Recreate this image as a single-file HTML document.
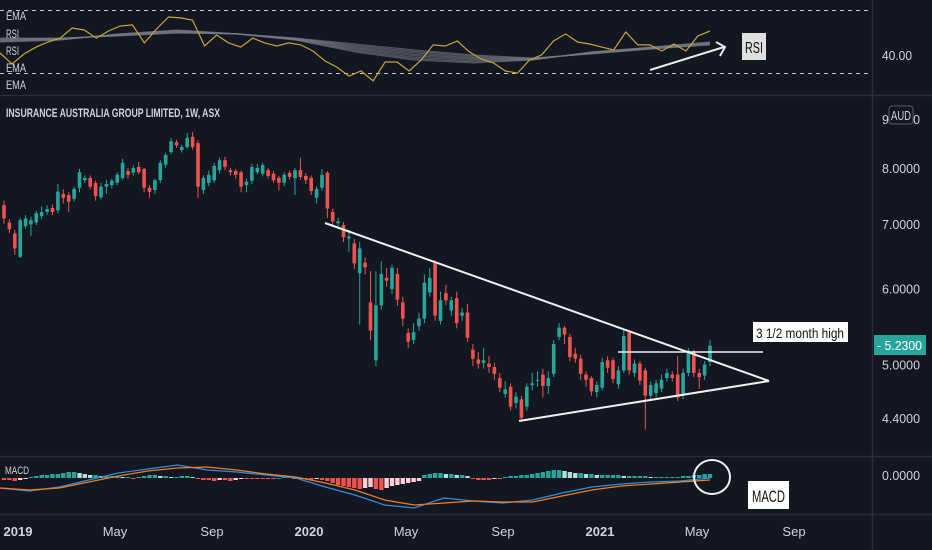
<!DOCTYPE html>
<html><head><meta charset="utf-8">
<style>
html,body{margin:0;padding:0;background:#131722;}
svg{display:block;}
text{font-family:"Liberation Sans Narrow","Liberation Sans",sans-serif;}
</style></head>
<body>
<svg id="chart" width="932" height="550" viewBox="0 0 932 550" xmlns="http://www.w3.org/2000/svg">
<rect x="0" y="0" width="932" height="550" fill="#131722"/>
<g id="grid">
<line x1="0" y1="95.5" x2="932" y2="95.5" stroke="#2a2e39" stroke-width="1.5"/>
<line x1="0" y1="456.5" x2="932" y2="456.5" stroke="#2a2e39" stroke-width="1.5"/>
<line x1="0" y1="514.5" x2="932" y2="514.5" stroke="#2a2e39" stroke-width="1.5"/>
<line x1="872.5" y1="0" x2="872.5" y2="550" stroke="#2a2e39" stroke-width="1.5"/>
</g>
<g id="rsiPanel">
<line x1="0" y1="10.5" x2="872" y2="10.5" stroke="#c8c8c8" stroke-dasharray="4,4"/>
<line x1="0" y1="73.5" x2="872" y2="73.5" stroke="#c8c8c8" stroke-dasharray="4,4"/>
<g id="emaRibbon"></g>
<path id="rsiLine" fill="none" stroke="#c9a33a" stroke-width="1.2"/>
<text x="6" y="20" fill="#d1d4dc" font-size="12" textLength="20" lengthAdjust="spacingAndGlyphs">EMA</text>
<text x="6" y="38" fill="#d1d4dc" font-size="12" textLength="13" lengthAdjust="spacingAndGlyphs">RSI</text>
<text x="6" y="55" fill="#d1d4dc" font-size="12" textLength="13" lengthAdjust="spacingAndGlyphs">RSI</text>
<text x="6" y="72" fill="#d1d4dc" font-size="12" textLength="20" lengthAdjust="spacingAndGlyphs">EMA</text>
<text x="6" y="89" fill="#d1d4dc" font-size="12" textLength="20" lengthAdjust="spacingAndGlyphs">EMA</text>
<text x="882" y="60" fill="#d1d4dc" font-size="13" textLength="30" lengthAdjust="spacingAndGlyphs">40.00</text>
<line x1="650" y1="70" x2="724" y2="47" stroke="#e8e8e8" stroke-width="2"/>
<polyline points="716,42 725,47 720,56" fill="none" stroke="#e8e8e8" stroke-width="2"/>
<rect x="742" y="33" width="24" height="27" fill="#e0e0e0"/>
<text x="745" y="53" fill="#111" font-size="16" textLength="18" lengthAdjust="spacingAndGlyphs">RSI</text>
</g>
<g id="mainPanel">
<text x="6" y="117" fill="#d1d4dc" font-size="12" font-weight="bold" textLength="214" lengthAdjust="spacingAndGlyphs">INSURANCE AUSTRALIA GROUP LIMITED, 1W, ASX</text>
<g id="priceAxis"></g>
<rect x="889" y="106" width="24" height="18" rx="3" fill="#131722" stroke="#555a66"/>
<text x="891" y="120" fill="#d1d4dc" font-size="13" textLength="20" lengthAdjust="spacingAndGlyphs">AUD</text>
<g id="candles"></g>
<line x1="325" y1="223" x2="769" y2="381" stroke="#f0f0f0" stroke-width="2"/>
<line x1="519" y1="421" x2="769" y2="381" stroke="#f0f0f0" stroke-width="2"/>
<line x1="618" y1="352" x2="763" y2="352" stroke="#f0f0f0" stroke-width="1.5"/>
<rect x="753" y="322" width="95" height="20" fill="#ffffff"/>
<text x="756" y="338" fill="#111" font-size="14" textLength="88" lengthAdjust="spacingAndGlyphs">3 1/2 month high</text>
<rect x="874" y="335" width="52" height="20" fill="#26a69a"/>
<text x="877" y="350" fill="#ffffff" font-size="13" textLength="45" lengthAdjust="spacingAndGlyphs">- 5.2300</text>
</g>
<g id="macdPanel">
<g id="hist"></g>
<path id="macdLine" fill="none" stroke="#2f8fdf" stroke-width="1.2"/>
<path id="signalLine" fill="none" stroke="#f57c1f" stroke-width="1.2"/>
<text x="5" y="474" fill="#d1d4dc" font-size="11" textLength="24" lengthAdjust="spacingAndGlyphs">MACD</text>
<text x="882" y="480" fill="#d1d4dc" font-size="13" textLength="38" lengthAdjust="spacingAndGlyphs">0.0000</text>
<ellipse cx="712" cy="477" rx="18" ry="17" fill="none" stroke="#f0f0f0" stroke-width="2"/>
<rect x="748" y="481" width="41" height="28" fill="#ffffff"/>
<text x="752" y="502" fill="#111" font-size="17" textLength="33" lengthAdjust="spacingAndGlyphs">MACD</text>
</g>
<g id="timeAxis"></g>
</svg>
<script>
const opens=[7.32,7.02,6.84,6.47,6.96,6.99,7.02,7.13,7.20,7.27,7.23,7.52,7.50,7.43,7.63,7.77,7.81,7.72,7.46,7.65,7.68,7.72,7.81,7.94,7.91,8.02,7.98,7.63,7.59,7.77,8.06,8.31,8.51,8.35,8.41,8.62,8.49,7.59,7.72,7.77,7.96,8.15,7.96,7.94,7.92,7.68,7.76,7.92,7.89,7.96,7.89,7.81,7.72,7.91,7.81,7.96,7.85,7.81,7.45,7.63,7.91,7.20,7.01,6.98,6.76,6.68,6.22,6.38,5.80,5.05,5.76,6.15,5.99,6.21,5.80,5.39,5.30,5.48,5.58,5.94,6.38,5.55,5.93,5.69,5.86,5.62,5.66,5.18,5.06,5.02,5.01,4.97,4.84,4.66,4.74,4.56,4.60,4.52,4.76,4.81,4.88,4.75,4.89,5.34,5.46,5.34,5.13,5.07,4.88,4.84,4.68,4.73,5.05,5.05,4.77,4.93,5.40,4.90,5.01,4.93,4.64,4.67,4.72,4.84,4.88,4.88,4.64,4.90,5.15,4.90,4.87,5.03];
const closes=[7.09,6.91,6.60,7.06,7.09,7.06,7.18,7.20,7.25,7.20,7.56,7.45,7.38,7.61,7.92,7.81,7.65,7.48,7.65,7.70,7.76,7.87,8.10,7.87,8.00,7.92,7.63,7.56,7.77,8.10,8.25,8.53,8.45,8.41,8.60,8.41,7.65,7.81,7.87,8.04,8.15,8.02,7.92,7.87,7.65,7.74,8.02,8.00,8.06,7.85,7.77,7.72,7.87,7.83,7.96,7.83,7.77,7.57,7.61,7.87,7.26,7.04,7.04,6.78,6.79,6.37,6.60,6.31,5.42,5.76,6.21,6.11,6.30,5.84,5.58,5.28,5.40,5.58,6.08,6.15,5.62,5.83,5.83,5.83,5.52,5.66,5.33,5.07,5.01,5.05,4.97,4.89,4.73,4.71,4.52,4.63,4.40,4.74,4.78,4.82,4.75,4.84,5.25,5.46,5.37,5.09,5.07,4.89,4.82,4.69,4.76,5.03,4.96,4.83,4.93,5.35,4.93,5.01,4.81,4.64,4.76,4.78,4.82,4.90,4.84,4.62,4.90,5.17,4.90,4.85,5.00,5.23];
const highs=[7.40,7.08,6.90,7.10,7.15,7.12,7.22,7.30,7.32,7.33,7.70,7.60,7.55,7.65,7.98,7.86,7.86,7.76,7.72,7.78,7.80,7.92,8.18,8.00,8.05,8.12,8.00,7.68,7.80,8.15,8.30,8.60,8.56,8.46,8.70,8.72,8.55,7.86,7.95,8.10,8.20,8.22,8.00,7.98,7.95,7.80,8.08,8.08,8.10,8.00,7.94,7.85,7.92,7.95,8.00,8.20,7.90,7.86,7.66,7.98,7.94,7.26,7.10,7.03,6.90,6.75,6.70,6.46,6.25,6.25,6.40,6.30,6.35,6.30,5.88,5.45,5.52,5.66,6.20,6.30,6.42,5.95,6.05,5.88,5.95,5.72,5.78,5.25,5.15,5.20,5.10,5.02,4.90,4.80,4.78,4.68,4.64,4.78,4.90,4.92,4.95,4.92,5.30,5.52,5.48,5.38,5.20,5.12,4.92,4.86,4.80,5.08,5.10,5.08,4.98,5.45,5.42,5.06,5.04,4.96,4.80,4.82,4.88,4.95,4.92,5.10,4.95,5.20,5.18,4.95,5.04,5.30];
const lows=[7.00,6.85,6.50,6.45,6.92,6.80,6.98,7.08,7.15,7.15,7.18,7.35,7.20,7.38,7.55,7.72,7.60,7.40,7.42,7.52,7.62,7.68,7.78,7.80,7.86,7.88,7.55,7.45,7.52,7.72,8.00,8.27,8.40,8.30,8.38,8.36,7.45,7.52,7.66,7.72,7.90,7.96,7.86,7.80,7.55,7.55,7.70,7.88,7.84,7.80,7.72,7.58,7.66,7.78,7.50,7.78,7.70,7.50,7.35,7.58,7.10,6.98,6.96,6.70,6.55,6.28,5.50,6.20,5.30,4.98,5.70,6.02,5.92,5.75,5.48,5.20,5.25,5.42,5.52,5.88,5.55,5.50,5.76,5.62,5.45,5.55,5.28,4.98,4.95,4.95,4.90,4.82,4.68,4.62,4.48,4.50,4.37,4.48,4.70,4.74,4.62,4.66,4.85,5.30,5.25,5.04,5.02,4.82,4.74,4.64,4.62,4.70,4.90,4.78,4.72,4.90,4.88,4.85,4.76,4.28,4.60,4.62,4.68,4.80,4.80,4.58,4.60,4.86,4.85,4.72,4.82,4.98];
const priceTicks=[9,8,7,6,5,4.4];
const priceTickLabels=["9.0000","8.0000","7.0000","6.0000","5.0000","4.4000"];
const rsiVals=[41.1,35,40.6,44.4,47.2,49.4,55,53.9,49.4,53.3,56.1,56.7,46.7,54.4,61.1,60.6,59.4,45,51.1,46.7,44.4,49.4,46.7,45,46.7,45.6,42.2,36.7,33.3,28.3,31.1,25.6,36.1,36.1,31.1,37.2,45.6,45,47.8,41.7,37.8,35.6,31.1,30,37.2,40,47.8,51.7,47.2,46.1,44.4,42.8,52.8,45.6,45.6,42.2,46.1,42.2,50.6,53.3];
const emaFast=[47.2,48.3,51.7,53.9,51.7,48.3,41.7,37.2,35.6,37.2,41.7,44.4,47.2];
const emaSlow=[49.4,49.4,50.6,52.2,51.7,49.4,46.1,42.8,40,38.3,40.6,43.3,45.6];
const macdVals=[-0.05,-0.065,-0.045,-0.01,0.025,0.045,0.065,0.04,0.03,0.015,0,-0.045,-0.085,-0.135,-0.15,-0.1,-0.115,-0.125,-0.11,-0.075,-0.045,-0.03,-0.02,-0.015,0];
const signalVals=[-0.05,-0.06,-0.05,-0.02,0.01,0.035,0.05,0.055,0.04,0.02,0.005,-0.025,-0.06,-0.11,-0.135,-0.125,-0.115,-0.12,-0.12,-0.09,-0.06,-0.04,-0.03,-0.02,-0.01];
const histVals=[-0.01,-0.01,-0.015,-0.01,-0.005,0.005,0.01,0.015,0.015,0.02,0.02,0.025,0.03,0.03,0.025,0.02,0.015,0.015,0.01,0.01,0.01,0.01,0.005,0.005,-0.005,0.005,0.01,0.015,0.015,0.01,0.01,0.005,0.005,0.01,0.01,0.005,-0.005,-0.01,-0.01,-0.015,-0.01,-0.01,-0.015,-0.01,-0.005,-0.005,-0.005,-0.005,-0.005,-0.005,-0.005,0,0.005,0.005,0,-0.005,-0.005,-0.01,-0.005,-0.01,-0.015,-0.025,-0.035,-0.04,-0.045,-0.05,-0.055,-0.05,-0.045,-0.055,-0.06,-0.05,-0.04,-0.035,-0.03,-0.025,-0.02,-0.015,0.015,0.02,0.025,0.025,0.02,0.02,0.015,0.015,0.01,-0.005,-0.01,-0.01,-0.01,-0.005,-0.005,0.005,0.01,0.01,0.015,0.015,0.02,0.025,0.03,0.035,0.04,0.04,0.035,0.03,0.025,0.025,0.02,0.02,0.015,0.015,0.015,0.015,0.015,0.01,0.01,0.01,0.01,0.01,0.005,0.005,0.005,0.005,0.005,0.005,0.01,0.01,0.015,0.015,0.02,0.02];
const timeLabels=["2019","May","Sep","2020","May","Sep","2021","May","Sep"];
const timeMonths=[0,4,8,12,16,20,24,28,32];
const timeBold=[true,false,false,true,false,false,true,false,false];

const NS="http://www.w3.org/2000/svg";
function mk(tag,attrs,parent){const e=document.createElementNS(NS,tag);for(const k in attrs)e.setAttribute(k,attrs[k]);parent.appendChild(e);return e;}
function xCandle(i){return 4+i*(706/(opens.length-1));}
function yPrice(p){return 168+Math.log(8/p)*418;}
function xSpread(i,n){return i*(710/(n-1));}
function yRsi(v){return 55-(v-40)*1.8;}
function yMacd(v){return 478-v*200;}
function xMonth(m){return 18+m*24.25;}

const axisG=document.getElementById('priceAxis');
priceTicks.forEach((p,i)=>{
  const t=mk('text',{x:882,y:(yPrice(p)+5).toFixed(1),fill:'#d1d4dc','font-size':13,textLength:38,lengthAdjust:'spacingAndGlyphs'},axisG);
  
  
  t.textContent=priceTickLabels[i];
});

const cg=document.getElementById('candles');
opens.forEach((o,i)=>{
  const c=closes[i],up=c>=o,col=up?'#26a69a':'#ef5350',x=xCandle(i);
  const w=mk('line',{x1:x.toFixed(1),x2:x.toFixed(1),y1:yPrice(highs[i]).toFixed(1),y2:yPrice(lows[i]).toFixed(1),stroke:col,'stroke-width':1},cg);
  
  
  const yt=yPrice(Math.max(o,c)),yb=yPrice(Math.min(o,c));
  const b=mk('rect',{x:(x-1.8).toFixed(1),y:yt.toFixed(1),width:3.6,height:Math.max(1,yb-yt).toFixed(1),fill:col},cg);
  
  
});

function pathFrom(arr,xf,yf){return arr.map((v,i)=>(i?'L':'M')+xf(i,arr.length).toFixed(1)+','+yf(v).toFixed(1)).join(' ');}
document.getElementById('rsiLine').setAttribute('d',pathFrom(rsiVals,xSpread,yRsi));
const rg=document.getElementById('emaRibbon');
for(let k=0;k<8;k++){
  const f=k/7;
  const vals=emaFast.map((v,i)=>v*(1-f)+emaSlow[i]*f);
  const p=mk('path',{d:pathFrom(vals,xSpread,yRsi),fill:'none',stroke:'#787b86','stroke-width':1.2,'stroke-opacity':0.6},rg);
  
  
}

const hg=document.getElementById('hist');
histVals.forEach((v,i)=>{
  const prev=i?histVals[i-1]:0;let col;
  if(v>=0)col=v>=prev?'#26a69a':'#b2dfdb';else col=v<=prev?'#ef5350':'#ffcdd2';
  const x=xCandle(i),y0=yMacd(0),y1=yMacd(v);
  const r=mk('rect',{x:(x-2.2).toFixed(1),y:Math.min(y0,y1).toFixed(1),width:4.4,height:Math.max(0.8,Math.abs(y1-y0)).toFixed(1),fill:col},hg);
  
  
});
document.getElementById('macdLine').setAttribute('d',pathFrom(macdVals,xSpread,yMacd));
document.getElementById('signalLine').setAttribute('d',pathFrom(signalVals,xSpread,yMacd));

const tg=document.getElementById('timeAxis');
timeLabels.forEach((l,i)=>{
  const t=mk('text',{x:xMonth(timeMonths[i]).toFixed(1),y:536,fill:'#d1d4dc','font-size':13,'text-anchor':'middle','font-weight':timeBold[i]?'bold':'normal'},tg);
  
  
  t.textContent=l;
});
</script>
</body></html>
